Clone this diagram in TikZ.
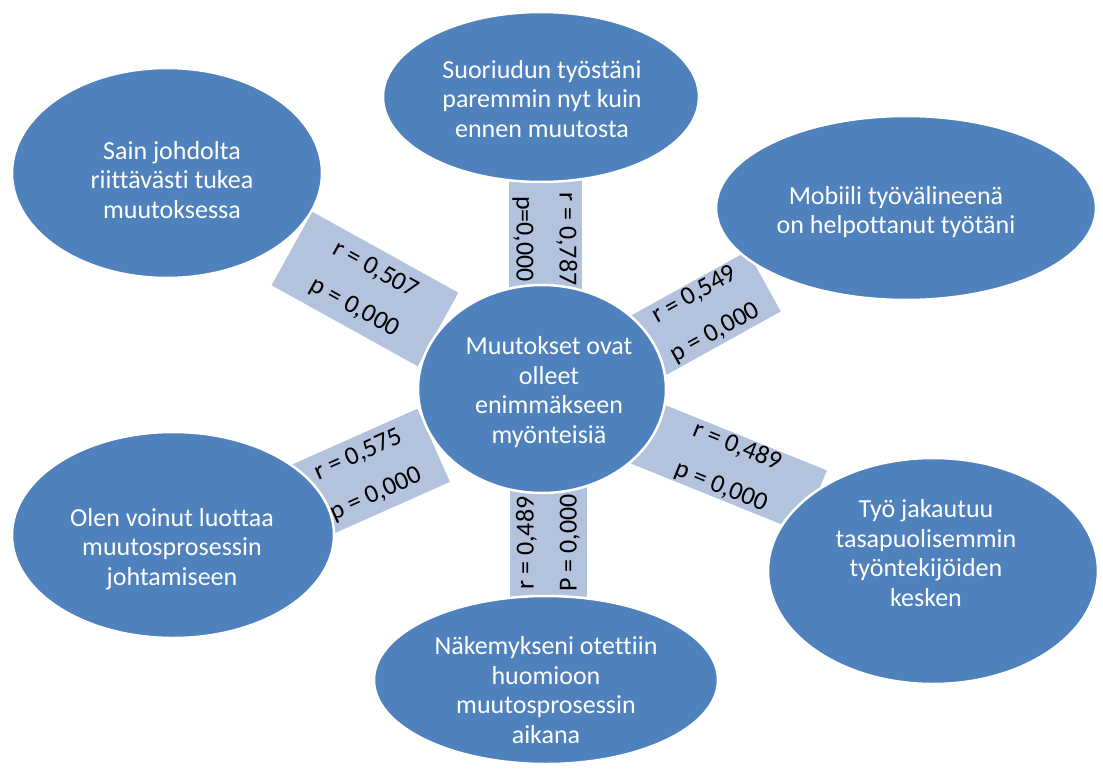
\documentclass[tikz,border=0pt]{standalone}
\usepackage{fontspec}
\setmainfont{Carlito}[Ligatures=NoCommon]
\usetikzlibrary{shapes.geometric}
\definecolor{ovalblue}{HTML}{4F81BD}
\definecolor{barblue}{HTML}{B3C2DD}

\begin{document}
\begin{tikzpicture}[x=1pt,y=-1pt,
  oval/.style={ellipse,fill=ovalblue,draw=white,line width=2.5pt,inner sep=0pt},
  ovaltext/.style={text=white,align=center,inner sep=0pt,font=\fontsize{26}{29.8}\selectfont},
  bar/.style={fill=barblue,align=center,inner sep=0pt,font=\fontsize{26}{43}\selectfont}]
\useasboundingbox (0,0) rectangle (1103,771);
% correlation bars
\node[bar,rotate=-90,minimum width=120pt,minimum height=73pt] (bperf) at (545,239) {r = 0,787\\p=0,000};
\node[bar,rotate=-29,minimum width=167pt,minimum height=84pt] (bsupport) at (365,289) {r = 0,507\\p = 0,000};
\node[bar,rotate=29,minimum width=135pt,minimum height=69pt] (bmobile) at (705,314) {r = 0,549\\p = 0,000};
\node[bar,rotate=24,minimum width=146pt,minimum height=80pt] (btrust) at (367,475) {r = 0,575\\p = 0,000};
\node[bar,rotate=90,minimum width=130pt,minimum height=77pt] (bheard) at (548,543) {r = 0,489\\P = 0,000};
\node[bar,rotate=-22,minimum width=184pt,minimum height=67pt] (bshare) at (729,467) {r = 0,489\\p = 0,000};
% ovals
\node[oval,minimum width=248pt,minimum height=208pt] (change) at (542,389) {};
\node[oval,minimum width=316pt,minimum height=170pt] (perf) at (541,97) {};
\node[oval,minimum width=310pt,minimum height=210pt] (support) at (167,173) {};
\node[oval,minimum width=380pt,minimum height=184pt] (mobile) at (906,208) {};
\node[oval,minimum width=322pt,minimum height=206pt] (trust) at (173,535) {};
\node[oval,minimum width=344pt,minimum height=168pt] (heard) at (546,680) {};
\node[oval,minimum width=330pt,minimum height=226pt] (share) at (933,571) {};
% oval texts
\node[ovaltext] (tchange) at (549,392) {Muutokset ovat\\olleet\\enimmäkseen\\myönteisiä};
\node[ovaltext] (tperf) at (542,99) {Suoriudun työstäni\\paremmin nyt kuin\\ennen muutosta};
\node[ovaltext] (tsupport) at (172,180) {Sain johdolta\\riittävästi tukea\\muutoksessa};
\node[ovaltext] (tmobile) at (896,212) {Mobiili työvälineenä\\on helpottanut työtäni};
\node[ovaltext] (ttrust) at (172,549) {Olen voinut luottaa\\muutosprosessin\\johtamiseen};
\node[ovaltext] (theard) at (546,690) {Näkemykseni otettiin\\huomioon\\muutosprosessin\\aikana};
\node[ovaltext] (tshare) at (926,553) {Työ jakautuu\\tasapuolisemmin\\työntekijöiden\\kesken};
\end{tikzpicture}
\end{document}
